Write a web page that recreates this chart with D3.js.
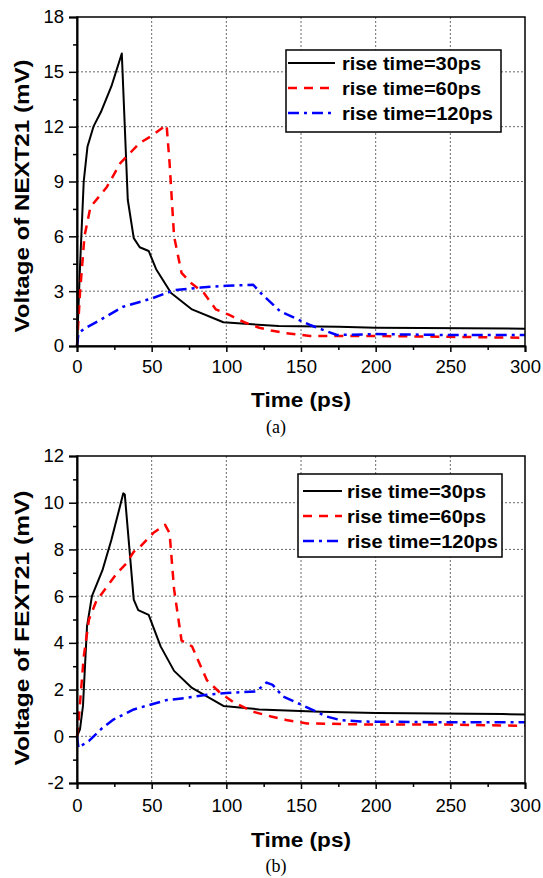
<!DOCTYPE html>
<html>
<head>
<meta charset="utf-8">
<script src="https://cdn.jsdelivr.net/npm/d3@7"></script>
<style>
body { margin: 0; background: #fff; }
svg { display: block; }
</style>
</head>
<body>
<svg></svg>
<script>
// series names and x ticks
const seriesNames = ['rise time=30ps', 'rise time=60ps', 'rise time=120ps']
const xTicks = [0, 50, 100, 150, 200, 250, 300]

// (a) NEXT21, [time ps, mV]
const next30 = [[0,0],[2,4.3],[4.5,9],[7,10.9],[11,12],[16,12.8],[23,14.2],[30,16],[34,8],[38,5.9],[42,5.4],[48,5.2],[53,4.2],[63,2.9],[77,2],[98,1.3],[115,1.2],[135,1.1],[175,1.05],[200,1.0],[300,0.95]]
const next60 = [[0,0],[2,2.9],[5,6],[9,7.6],[20,8.7],[29,10],[36,10.6],[42,11.1],[50,11.5],[60,12.1],[62,10],[65,6],[70,4],[77,3.4],[85,2.9],[93,2],[102,1.7],[112,1.3],[122,1.0],[130,0.85],[140,0.7],[156,0.55],[200,0.55],[250,0.5],[300,0.45]]
const next120 = [[0,0],[1,0.7],[5,0.95],[15,1.4],[31,2.15],[50,2.6],[65,3.05],[83,3.2],[100,3.3],[118,3.35],[123,2.9],[136,1.9],[156,1.15],[174,0.6],[200,0.65],[250,0.6],[300,0.6]]
const nextTicks = [0, 3, 6, 9, 12, 15, 18]

// (b) FEXT21, [time ps, mV]
const fext30 = [[0,0],[2,0.3],[4,1.3],[6.7,4.7],[10,6],[17,7.1],[23,8.4],[31,10.4],[32,10.35],[38,5.85],[41,5.4],[48,5.2],[56,3.85],[65,2.8],[77,2.07],[98,1.3],[122,1.15],[163,1.05],[200,1.0],[285,0.95],[300,0.93]]
const fext60 = [[0,0],[1,0.6],[4.5,3.4],[8,5],[13,5.8],[20,6.4],[27,7],[33,7.4],[38,7.9],[42,8.1],[51,8.7],[59,9.05],[62,8.7],[65,6.3],[70,4.1],[77,3.85],[87,2.4],[96,1.85],[105,1.45],[118,1.05],[130,0.85],[140,0.7],[154,0.55],[200,0.5],[250,0.5],[300,0.45]]
const fext120 = [[0,0],[1,-0.5],[3,-0.4],[8,-0.2],[16,0.3],[24,0.7],[38,1.15],[49,1.35],[60,1.55],[74,1.65],[87,1.78],[100,1.85],[120,1.92],[127,2.3],[131,2.2],[138,1.7],[152,1.3],[167,0.85],[176,0.7],[190,0.63],[250,0.6],[300,0.6]]
const fextTicks = [-2, 0, 2, 4, 6, 8, 10, 12]

const styles = [
  { color: '#000000', dash: null, width: 2 },
  { color: '#ff0000', dash: '9,7', width: 2.5 },
  { color: '#0000ff', dash: '11,5,3,5', width: 2.5 }
]

const svg = d3.select('svg').attr('width', 543).attr('height', 878)
const sans = 'Arial, "Liberation Sans", sans-serif'

function drawPanel(opt) {
  const x = d3.scaleLinear().domain([0, 300]).range([77, 525])
  const y = d3.scaleLinear().domain(opt.yDomain).range([opt.bottom, opt.top])
  const g = svg.append('g')

  // grid
  g.append('g').selectAll('line').data(xTicks.slice(1, -1)).enter().append('line')
    .attr('x1', d => x(d)).attr('x2', d => x(d))
    .attr('y1', opt.top).attr('y2', opt.bottom)
    .attr('stroke', '#444').attr('stroke-width', 0.8).attr('stroke-dasharray', '2,2')
  g.append('g').selectAll('line').data(opt.yTicks.slice(1, -1)).enter().append('line')
    .attr('x1', 77).attr('x2', 525)
    .attr('y1', d => y(d)).attr('y2', d => y(d))
    .attr('stroke', '#444').attr('stroke-width', 0.8).attr('stroke-dasharray', '2,2')

  // series
  const line = d3.line().x(d => x(d[0])).y(d => y(d[1]))
  opt.series.forEach((s, i) => {
    g.append('path').datum(s).attr('d', line)
      .attr('fill', 'none').attr('stroke', styles[i].color)
      .attr('stroke-width', styles[i].width)
      .attr('stroke-dasharray', styles[i].dash)
      .attr('stroke-linejoin', 'round')
  })

  // frame
  g.append('rect').attr('x', 77).attr('y', opt.top)
    .attr('width', 448).attr('height', opt.bottom - opt.top)
    .attr('fill', 'none').attr('stroke', '#000').attr('stroke-width', 1.5)

  // axes
  const xAxis = d3.axisBottom(x).tickValues(xTicks).tickSize(6).tickPadding(opt.xPad)
  const xMinor = d3.axisBottom(x).tickValues(d3.range(25, 300, 50)).tickSize(4).tickFormat('')
  const ax = g.append('g').attr('transform', 'translate(0,' + opt.bottom + ')').call(xAxis)
  g.append('g').attr('transform', 'translate(0,' + opt.bottom + ')').call(xMinor)
    .call(a => a.select('.domain').remove())
  const yAxis = d3.axisLeft(y).tickValues(opt.yTicks).tickSize(8).tickPadding(5)
    .tickFormat(d => String(d))
  const yMinor = d3.axisLeft(y).tickValues(opt.yMinor).tickSize(4).tickFormat('')
  const ay = g.append('g').attr('transform', 'translate(77,0)').call(yAxis)
  g.append('g').attr('transform', 'translate(77,0)').call(yMinor)
    .call(a => a.select('.domain').remove())
  g.selectAll('.tick line').attr('stroke-width', 1.5)
  ax.select('.domain').attr('stroke-width', 2)
  ay.select('.domain').attr('stroke-width', 2)
  g.selectAll('.tick text').attr('font-family', sans).attr('font-size', 18.5).attr('fill', '#000')

  // titles
  g.append('text').attr('x', 301).attr('y', opt.xTitleY)
    .attr('text-anchor', 'middle').attr('font-family', sans)
    .attr('font-size', 20).attr('font-weight', 'bold')
    .attr('textLength', 100).attr('lengthAdjust', 'spacingAndGlyphs').text('Time (ps)')
  g.append('text').attr('transform', 'translate(29,' + opt.yTitleY + ') rotate(-90)')
    .attr('text-anchor', 'middle').attr('font-family', sans)
    .attr('font-size', 20).attr('font-weight', 'bold')
    .attr('textLength', opt.yTitleLen).attr('lengthAdjust', 'spacingAndGlyphs').text(opt.yTitle)
  g.append('text').attr('x', 276).attr('y', opt.captionY)
    .attr('text-anchor', 'middle').attr('font-family', '"Liberation Serif", "Times New Roman", serif')
    .attr('font-size', 18).text(opt.caption)

  // legend
  const L = opt.legend
  g.append('rect').attr('x', L.x).attr('y', L.y).attr('width', L.w).attr('height', L.h)
    .attr('fill', '#fff').attr('stroke', '#000').attr('stroke-width', 1.5)
  seriesNames.forEach((n, i) => {
    const ry = L.y + L.first + i * 25
    g.append('line').attr('x1', L.x + L.l0).attr('x2', L.x + L.l1)
      .attr('y1', ry).attr('y2', ry)
      .attr('stroke', styles[i].color).attr('stroke-width', styles[i].width)
      .attr('stroke-dasharray', styles[i].dash)
    g.append('text').attr('x', L.x + L.tx).attr('y', ry + 6.5)
      .attr('font-family', sans).attr('font-size', 18).attr('font-weight', 'bold')
      .attr('textLength', i === 2 ? 151 : 139).attr('lengthAdjust', 'spacingAndGlyphs').text(n)
  })
}

drawPanel({
  top: 17, bottom: 346, yDomain: [0, 18], yTicks: nextTicks,
  yMinor: d3.range(1.5, 18, 3), series: [next30, next60, next120],
  yTitle: 'Voltage of NEXT21 (mV)', yTitleY: 196, yTitleLen: 273, caption: '(a)',
  xPad: 7.5, xTitleY: 407, captionY: 433,
  legend: { x: 286, y: 50, w: 215, h: 82, first: 13, l0: 2, l1: 49, tx: 56 }
})
drawPanel({
  top: 456, bottom: 783, yDomain: [-2, 12], yTicks: fextTicks,
  yMinor: d3.range(-1, 12, 2), series: [fext30, fext60, fext120],
  yTitle: 'Voltage of FEXT21 (mV)', yTitleY: 628, yTitleLen: 275, caption: '(b)',
  xPad: 9.5, xTitleY: 847, captionY: 872,
  legend: { x: 298, y: 474, w: 204, h: 83, first: 17, l0: 5, l1: 44, tx: 49 }
})
</script>
</body>
</html>
